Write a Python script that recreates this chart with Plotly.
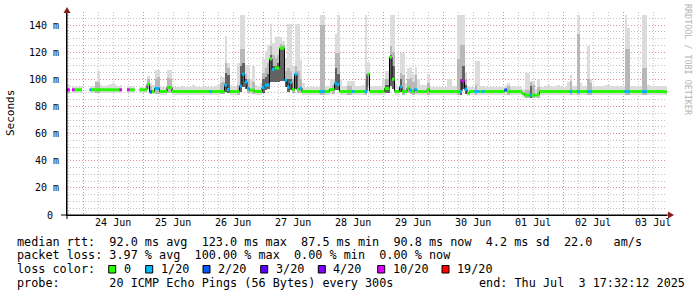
import plotly.graph_objects as go
from datetime import datetime, timedelta

N_ = None
START = "2025-06-23 17:32:12"
DAY_DATES = ["2025-06-24", "2025-06-25", "2025-06-26", "2025-06-27", "2025-06-28",
             "2025-06-29", "2025-06-30", "2025-07-01", "2025-07-02", "2025-07-03"]
DAY_LABELS = ["24 Jun", "25 Jun", "26 Jun", "27 Jun", "28 Jun",
              "29 Jun", "30 Jun", "01 Jul", "02 Jul", "03 Jul"]
Y_TICKS = [0, 20, 40, 60, 80, 100, 120, 140]
Y_TICK_TEXT = ["0\u00a0", "20 m", "40 m", "60 m", "80 m", "100 m", "120 m", "140 m"]
LOSS_LABELS = ["0", "1/20", "2/20", "3/20", "4/20", "10/20", "19/20"]
LOSS_COLORS = ["#26ff00", "#00b8ff", "#0059ff", "#5e00ff", "#7e00ff", "#dd00ff", "#ff0000"]

# hourly median rtt (ms), None = no data
MEDIAN = [
    92.3, N_, 92.3, 92.3, 92.3, 92.3, N_, N_, N_, 92.3, 92.3, 92.3, 92.3, 92.3, 92.3, 92.3, 92.3, 92.3, 92.3, 92.3,
    92.3, 92.3, N_, N_, 92.3, 92.3, 92.3, N_, N_, 92.3, 92.3, 92.3, 96.3, 90.8, 91.0, 93.2, 93.2, 91.0, 91.0, 91.0,
    94.0, 94.0, 91.0, 91.0, 91.0, 91.0, 91.0, 91.0, 91.0, 91.0, 91.0, 91.0, 91.0, 91.0, 91.0, 91.0, 91.0, 91.0, 91.0, 91.0,
    91.0, 91.0, 91.0, 95.6, 92.5, 91.0, 91.0, 91.0, 91.0, 95.0, 103.7, 98.0, 93.2, 92.0, 92.0, 91.0, 91.0, 91.0, 93.9, 95.6,
    96.0, 115.0, 107.3, 108.3, 108.3, 122.9, 122.9, 99.3, 94.4, 97.6, 92.5, 103.7, 92.5, 93.4, 91.0, 91.0, 91.0, 91.0, 91.0, 91.0,
    91.0, 91.0, 91.0, 91.0, 91.0, 92.5, 92.5, 97.0, 96.0, 91.0, 91.0, 91.0, 91.0, 91.0, 91.0, 91.0, 91.0, 91.0, 91.0, 91.0,
    103.7, 91.0, 91.0, 91.0, 91.0, 91.0, 91.0, 93.2, 93.2, 116.3, 100.0, 91.0, 91.0, 94.4, 91.0, 91.0, 93.5, 92.0, 91.0, 92.5,
    91.0, 91.0, 91.0, 91.0, 92.5, 91.0, 91.0, 91.0, 91.0, 91.0, 91.0, 91.0, 91.0, 91.0, 91.0, 91.0, 91.0, 91.0, 98.8, 92.7,
    89.8, 91.0, 91.0, 91.0, 91.0, 91.0, 91.0, 91.0, 91.0, 91.0, 91.0, 91.0, 91.0, 91.0, 91.0, 92.2, 91.0, 91.0, 91.0, 91.0,
    91.0, 91.0, 89.5, 88.3, 88.3, 88.3, 88.3, 88.3, 89.0, 91.0, 91.0, 91.0, 91.0, 91.0, 91.0, 91.0, 91.0, 91.0, 91.0, 91.0,
    91.0, 91.0, 91.0, 91.0, 91.0, 91.0, 91.0, 91.0, 91.0, 91.0, 91.0, 91.0, 91.0, 91.0, 91.0, 91.0, 91.0, 91.0, 91.0, 91.0,
    91.0, 91.0, 91.0, 91.0, 91.0, 91.0, 91.0, 91.0, 91.0, 91.0, 91.0, 91.0, 91.0, 91.0, 91.0, 91.0, 91.0, 91.0, 91.0, 90.8,
]

# loss class index into LOSS_LABELS
LOSS = [
    5, 0, 5, 0, 0, 0, 0, 0, 0, 1, 0, 0, 0, 0, 0, 0, 0, 0, 0, 0,
    0, 5, 0, 0, 5, 0, 0, 0, 0, 0, 0, 0, 0, 2, 0, 1, 1, 0, 0, 0,
    0, 0, 0, 0, 0, 0, 0, 0, 0, 0, 0, 0, 0, 0, 0, 0, 0, 1, 0, 0,
    0, 0, 0, 1, 1, 0, 0, 0, 0, 1, 1, 1, 1, 0, 0, 0, 0, 0, 1, 1,
    1, 0, 1, 0, 0, 0, 0, 1, 1, 1, 0, 1, 0, 1, 0, 0, 0, 0, 0, 0,
    0, 1, 1, 0, 0, 0, 0, 1, 1, 0, 0, 0, 0, 0, 1, 0, 0, 0, 0, 1,
    0, 0, 0, 0, 0, 0, 0, 0, 0, 0, 0, 0, 0, 1, 0, 0, 0, 1, 0, 1,
    0, 0, 0, 0, 0, 0, 0, 0, 0, 0, 0, 0, 0, 0, 0, 0, 0, 1, 5, 1,
    0, 0, 0, 1, 1, 0, 1, 0, 0, 0, 0, 0, 0, 0, 0, 2, 0, 0, 0, 0,
    0, 0, 0, 0, 0, 1, 0, 0, 0, 0, 0, 0, 0, 0, 0, 0, 0, 0, 0, 0,
    0, 1, 0, 0, 1, 0, 0, 0, 1, 1, 0, 0, 0, 0, 0, 0, 0, 0, 0, 0,
    0, 0, 0, 1, 1, 0, 0, 0, 0, 0, 1, 1, 0, 0, 0, 0, 0, 0, 0, 0,
]

# smoke: lowest ping, highest ping, upper edge of medium and dark cores (0 = none)
SMOKE_LO = [
    89.8, N_, 90, 90, 90, 90, N_, N_, N_, 90, 90, 90, 90, 90, 90, 90, 89.8, 89.8, 89.8, 90,
    90, 90, N_, N_, 90, 90, 90, N_, N_, 90, 90, 90, 93, 89, 89, 89, 89, 88.8, 88.8, 88.8,
    90, 90, 88.8, 88.8, 88.8, 88.8, 88.8, 88.8, 88.8, 88.8, 88.8, 88.8, 88.8, 88.8, 88.8, 88.8, 88.8, 88.8, 88.8, 88.8,
    88.8, 89, 89, 91, 90, 88.8, 88.8, 88.8, 88.8, 91, 94, 93, 90, 89.5, 89.5, 88.8, 88.8, 88.8, 90, 92,
    93, 98, 98, 98, 98, 99, 99, 94, 91, 92, 90, 93, 90, 90, 88.8, 88.8, 88.5, 88.5, 88.5, 88.8,
    88.8, 88.8, 88.8, 88.8, 88.8, 89.5, 89.5, 92, 92, 88.8, 88.8, 88.8, 88.8, 88.8, 88.8, 88.8, 88.8, 88.8, 88.8, 88.8,
    95, 88.8, 88.8, 88.8, 88.8, 88.8, 88.8, 90, 90, 95, 93, 88.8, 88.8, 91, 88.8, 88.8, 90, 89.5, 88.8, 89.5,
    88.8, 88.8, 88.8, 88.8, 88.8, 88.8, 88.8, 88.8, 88.8, 88.8, 88.8, 88.8, 88.8, 88.8, 88.8, 88.8, 88.8, 88.8, 93, 89.5,
    88, 88.8, 88.8, 88.8, 88.8, 88.8, 88.8, 88.8, 88.8, 88.8, 88.8, 88.8, 88.8, 88.8, 88.8, 88.8, 88.8, 88.8, 88.8, 88.8,
    88.8, 88.8, 87, 86, 86, 86, 86, 86, 86.5, 88.8, 88.8, 88.8, 88.8, 88.8, 88.8, 88.8, 88.8, 88.8, 88.8, 88.8,
    88.8, 88.8, 88.8, 88.8, 88.8, 88.8, 88.8, 88.8, 88.8, 88.8, 88.8, 88.8, 88.8, 88.8, 88.8, 88.8, 88.8, 88.8, 88.8, 88.8,
    88.8, 88.8, 88.8, 88.8, 88.8, 88.8, 88.8, 88.8, 88.8, 88.8, 88.8, 88.8, 88.8, 88.8, 88.8, 88.8, 88.8, 88.8, 88.8, 88.8,
]
SMOKE_HI = [
    96, N_, 95, 94.5, 94.5, 95, N_, N_, N_, 95, 95, 99, 106, 96, 95, 95, 95.5, 96.5, 97, 95.5,
    95, 95.5, N_, N_, 95, 95, 94.5, N_, N_, 94, 94, 94.5, 102.4, 97, 96, 106.6, 106.6, 94, 94, 94.5,
    106.8, 106.8, 95, 94.5, 94, 94.5, 95, 94.5, 94, 94.5, 95.5, 94.5, 94, 94.5, 95, 94.5, 94, 94.5, 94.5, 95,
    95.5, 102.4, 102, 132, 112, 96, 95, 95, 112, 147.5, 147.5, 110.8, 110.8, 100, 109.5, 96, 95, 97, 115, 120.7,
    125, 140.7, 127, 131.5, 131.5, 131.5, 128, 115, 141, 141, 110, 141, 141, 114, 97, 94.5, 94.5, 95, 94.5, 94.5,
    94.5, 147.5, 147.5, 95, 95, 100, 100, 133.6, 147.5, 100, 95, 95, 98.8, 98.8, 98.8, 95, 95, 95, 96, 147.5,
    112.4, 95, 95, 95, 95, 95, 100, 105.8, 105.8, 147.5, 147.5, 97, 95, 119.5, 119.5, 97, 108.5, 109, 104, 109,
    100, 95.6, 95.6, 95.6, 103.7, 94.5, 94.5, 94.5, 94.5, 94.5, 94.5, 94.5, 100, 100, 95, 95, 147.5, 147.5, 147.5, 105,
    95, 94.5, 94.5, 113.7, 113.7, 95, 95, 94.7, 94.7, 94.7, 94.7, 94.7, 94.7, 94.7, 94.7, 96, 97.6, 95, 95, 95,
    95, 94.5, 93, 105, 105, 99, 98.8, 93, 100, 95, 94.5, 95, 95.5, 95, 94.5, 95, 95.5, 95, 94.5, 95,
    98, 103.2, 95, 95, 147.5, 97, 95, 95, 124.4, 100, 95, 95, 95, 95, 95, 96, 96, 95, 95, 95,
    95, 95, 95, 147.5, 137.8, 95, 95, 95, 95, 95, 147.5, 147.5, 96, 95, 95, 95, 95, 95, 95, 95,
]
SMOKE_MID = [
    93, 0, 0, 0, 0, 0, 0, 0, 0, 0, 0, 98, 98, 0, 0, 0, 0, 0, 0, 0,
    0, 0, 0, 0, 0, 0, 0, 0, 0, 0, 0, 0, 100, 95, 0, 100, 102, 0, 0, 0,
    101, 100, 0, 0, 0, 0, 0, 0, 0, 0, 0, 0, 0, 0, 0, 0, 0, 0, 0, 0,
    0, 97, 98, 112, 108, 0, 0, 0, 96, 122, 122, 104, 100, 0, 98, 0, 0, 0, 105, 108,
    112, 124.4, 118, 116, 118, 126, 125, 106, 108, 106, 100, 110, 106, 100, 0, 0, 0, 0, 0, 0,
    0, 140, 140, 0, 0, 0, 96, 119.7, 119.7, 0, 0, 0, 95, 95, 0, 0, 0, 0, 0, 100,
    105, 0, 0, 0, 0, 0, 0, 100, 100, 124.4, 120, 0, 0, 105, 103, 0, 100, 101, 98, 103,
    0, 0, 0, 0, 97, 0, 0, 0, 0, 0, 0, 0, 0, 0, 0, 0, 115, 125, 125, 100,
    0, 0, 0, 96, 0, 0, 0, 0, 0, 0, 0, 0, 0, 0, 0, 0, 95, 0, 0, 0,
    0, 0, 0, 92, 92, 98, 96, 0, 94, 0, 0, 0, 0, 0, 0, 0, 0, 0, 0, 0,
    0, 99, 0, 0, 133.6, 0, 0, 0, 100, 97, 0, 0, 0, 0, 0, 0, 0, 0, 0, 0,
    0, 0, 0, 122, 122, 0, 0, 0, 0, 0, 108, 108, 0, 0, 0, 0, 0, 0, 0, 0,
]
SMOKE_DARK = [
    0, 0, 0, 0, 0, 0, 0, 0, 0, 0, 0, 0, 0, 0, 0, 0, 0, 0, 0, 0,
    0, 0, 0, 0, 0, 0, 0, 0, 0, 0, 0, 0, 0, 0, 0, 0, 0, 0, 0, 0,
    0, 0, 0, 0, 0, 0, 0, 0, 0, 0, 0, 0, 0, 0, 0, 0, 0, 0, 0, 0,
    0, 0, 0, 105, 103, 0, 0, 0, 0, 110, 112, 100, 0, 0, 0, 0, 0, 0, 100, 102,
    104, 118, 110, 110, 112, 124, 123, 100, 100, 100, 0, 104, 0, 0, 0, 0, 0, 0, 0, 0,
    0, 0, 0, 0, 0, 0, 0, 108, 104, 0, 0, 0, 0, 0, 0, 0, 0, 0, 0, 0,
    0, 0, 0, 0, 0, 0, 0, 96, 96, 118, 110, 0, 0, 100, 0, 0, 0, 0, 0, 0,
    0, 0, 0, 0, 0, 0, 0, 0, 0, 0, 0, 0, 0, 0, 0, 0, 0, 100, 110, 96,
    0, 0, 0, 0, 0, 0, 0, 0, 0, 0, 0, 0, 0, 0, 0, 0, 0, 0, 0, 0,
    0, 0, 0, 0, 0, 95, 0, 0, 0, 0, 0, 0, 0, 0, 0, 0, 0, 0, 0, 0,
    0, 0, 0, 0, 0, 0, 0, 0, 0, 0, 0, 0, 0, 0, 0, 0, 0, 0, 0, 0,
    0, 0, 0, 0, 0, 0, 0, 0, 0, 0, 0, 0, 0, 0, 0, 0, 0, 0, 0, 0,
]

STATS_RTT = "median rtt:  92.0 ms avg  123.0 ms max  87.5 ms min  90.8 ms now  4.2 ms sd  22.0   am/s"
STATS_LOSS = "packet loss: 3.97 % avg  100.00 % max  0.00 % min  0.00 % now"
PROBE = "probe:       20 ICMP Echo Pings (56 Bytes) every 300s"
END = "end: Thu Jul  3 17:32:12 2025"

# ---------------- layout geometry (pixels) ----------------
FW, FH = 697, 297
ML, MR, MT, MB = 67, 30, 12, 82
PW, PH = FW - ML - MR, FH - MT - MB
Y_MAX = 149.6


def xp(px):
    return (px - ML) / PW


def yp(py):
    return (FH - MB - py) / PH


def nb(s):
    return s.replace(" ", "\u00a0")


t0 = datetime.strptime(START, "%Y-%m-%d %H:%M:%S")
N = len(MEDIAN)
edges = [t0 + timedelta(hours=k) for k in range(N + 1)]
centers = [t0 + timedelta(hours=k + 0.5) for k in range(N)]

fig = go.Figure()


def smoke(top, color):
    xs, base, h = [], [], []
    for k in range(N):
        lo, hi = SMOKE_LO[k], top[k]
        if lo is None or hi is None or hi <= lo:
            continue
        xs.append(centers[k])
        base.append(lo)
        h.append(hi - lo)
    fig.add_trace(go.Bar(x=xs, y=h, base=base, width=3600 * 1000,
                         marker=dict(color=color, line=dict(width=0)),
                         showlegend=False, hoverinfo="skip"))


smoke(SMOKE_HI, "#dcdcdc")
smoke(SMOKE_MID, "#b8b8b8")
smoke(SMOKE_DARK, "#626262")

# black median step line
bx, by = [], []
for k in range(N):
    m = MEDIAN[k]
    if m is None:
        bx.append(None)
        by.append(None)
        continue
    bx += [edges[k], edges[k + 1]]
    by += [m, m]
fig.add_trace(go.Scatter(x=bx, y=by, mode="lines", line=dict(color="#000000", width=1),
                         showlegend=False, hoverinfo="skip"))

# coloured median segments by loss
for c, col in enumerate(LOSS_COLORS):
    sx, sy = [], []
    for k in range(N):
        if MEDIAN[k] is None or LOSS[k] != c:
            continue
        sx += [edges[k], edges[k + 1], None]
        sy += [MEDIAN[k], MEDIAN[k], None]
    if sx:
        fig.add_trace(go.Scatter(x=sx, y=sy, mode="lines", line=dict(color=col, width=3),
                                 showlegend=False, hoverinfo="skip"))

# invisible trace on label axis
fig.add_trace(go.Scatter(x=[edges[0], edges[-1]], y=[0, 0], xaxis="x2", mode="lines",
                         line=dict(width=0), showlegend=False, hoverinfo="skip"))

MONO = "DejaVu Sans Mono"
RED_GRID = "rgba(235,120,120,0.75)"
GRAY_GRID = "rgba(175,175,175,0.75)"
xr = [edges[0], edges[-1]]

fig.update_layout(
    width=FW, height=FH,
    margin=dict(l=ML, r=MR, t=MT, b=MB, pad=0),
    paper_bgcolor="white", plot_bgcolor="white",
    barmode="overlay", bargap=0,
    showlegend=False,
    xaxis=dict(type="date", range=xr, tickvals=DAY_DATES, showticklabels=False,
               showgrid=True, gridcolor=RED_GRID, griddash="1px,2px", gridwidth=1,
               minor=dict(dtick=6 * 3600 * 1000, tick0="2025-06-24 00:00", showgrid=True,
                          gridcolor=GRAY_GRID, griddash="1px,2px", gridwidth=1),
               showline=True, linecolor="#000000", linewidth=1, zeroline=False, ticks=""),
    xaxis2=dict(type="date", range=xr, overlaying="x", matches="x", anchor="y", side="bottom",
                tickvals=[d + " 12:00" for d in DAY_DATES], ticktext=DAY_LABELS,
                tickfont=dict(family=MONO, size=10, color="#000000"),
                showgrid=False, zeroline=False, showline=False, ticks=""),
    yaxis=dict(range=[0, Y_MAX], tickvals=Y_TICKS, ticktext=Y_TICK_TEXT,
               tickfont=dict(family=MONO, size=10, color="#000000"),
               showgrid=True, gridcolor=RED_GRID, griddash="1px,2px", gridwidth=1,
               minor=dict(dtick=5, showgrid=True, gridcolor=GRAY_GRID, griddash="1px,2px", gridwidth=1),
               showline=True, linecolor="#000000", linewidth=1, zeroline=False, ticks="",
               ticklabelstandoff=5),
)

shapes = []
# axis extensions and arrow heads
shapes.append(dict(type="line", xref="paper", yref="paper", x0=xp(61), x1=xp(669), y0=yp(215), y1=yp(215),
                   line=dict(color="#000000", width=1)))
shapes.append(dict(type="line", xref="paper", yref="paper", x0=xp(67), x1=xp(67), y0=yp(219), y1=yp(11),
                   line=dict(color="#000000", width=1)))
ARROW = "#8b1a1a"
shapes.append(dict(type="path", xref="paper", yref="paper",
                   path=f"M {xp(668)} {yp(211.5)} L {xp(674)} {yp(215)} L {xp(668)} {yp(218.5)} Z",
                   fillcolor=ARROW, line=dict(color=ARROW, width=0)))
shapes.append(dict(type="path", xref="paper", yref="paper",
                   path=f"M {xp(63.5)} {yp(13)} L {xp(67)} {yp(7)} L {xp(70.5)} {yp(13)} Z",
                   fillcolor=ARROW, line=dict(color=ARROW, width=0)))

# legend boxes
BOX_X = [108.7, 145.7, 203, 260.7, 318.3, 377.7, 442]
for bxp, col in zip(BOX_X, LOSS_COLORS):
    shapes.append(dict(type="rect", xref="paper", yref="paper",
                       x0=xp(bxp), x1=xp(bxp + 7), y0=yp(273), y1=yp(265.5),
                       fillcolor=col, line=dict(color="#000000", width=1)))
fig.update_layout(shapes=shapes)

ann = []


def text(x, y, s, size=11.8, color="#000000", angle=0, xanchor="left", family=MONO):
    ann.append(dict(x=xp(x), y=yp(y), xref="paper", yref="paper", text=nb(s), showarrow=False,
                    xanchor=xanchor, yanchor="middle", textangle=angle, borderpad=0,
                    font=dict(family=family, size=size, color=color)))


text(16, 241.7, STATS_RTT)
text(16, 255.2, STATS_LOSS)
text(16, 269.3, "loss color:")
for bxp, lab in zip(BOX_X, LOSS_LABELS):
    text(bxp + 14, 269.3, lab)
text(16, 283, PROBE)
text(478, 283, END)
ann.append(dict(x=xp(11), y=yp(113), xref="paper", yref="paper", text="Seconds", showarrow=False,
                xanchor="center", yanchor="middle", textangle=-90,
                font=dict(family=MONO, size=11, color="#000000")))
ann.append(dict(x=xp(688), y=yp(60), xref="paper", yref="paper", text=nb("RRDTOOL / TOBI OETIKER"),
                showarrow=False, xanchor="center", yanchor="middle", textangle=90,
                font=dict(family=MONO, size=8.4, color="#b4b4b4")))
fig.update_layout(annotations=ann)

fig.write_html("out.html", config=dict(displayModeBar=False))
